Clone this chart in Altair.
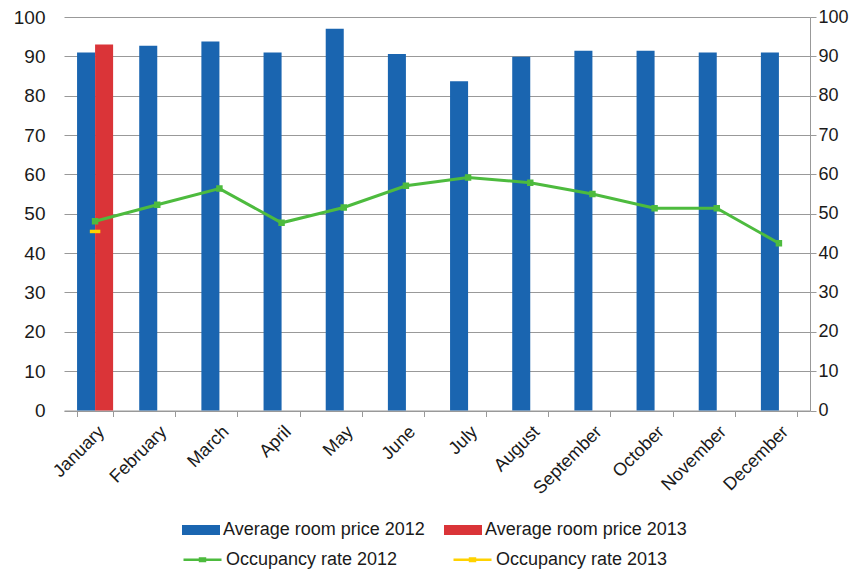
import altair as alt
import pandas as pd

months = ["January", "February", "March", "April", "May", "June", "July",
          "August", "September", "October", "November", "December"]
price_2012 = [91.0, 92.7, 93.8, 91.0, 97.0, 90.6, 83.7, 89.9, 91.4, 91.4, 91.0, 91.0]
price_2013 = [93.0]            # January only
occ_2012 = [48.1, 52.3, 56.4, 47.7, 51.6, 57.1, 59.2, 57.9, 55.0, 51.4, 51.4, 42.5]
occ_2013 = [45.5]              # January only

price_series = ["Average room price 2012", "Average room price 2013"]
occ_series = ["Occupancy rate 2012", "Occupancy rate 2013"]
price_colors = ["#1A65B0", "#DA3438"]
occ_colors = ["#4DBB3E", "#FFD200"]

bars = pd.DataFrame(
    [{"month": m, "year": "2012", "series": price_series[0], "value": v} for m, v in zip(months, price_2012)]
    + [{"month": m, "year": "2013", "series": price_series[1], "value": v} for m, v in zip(months, price_2013)]
)
occ12 = pd.DataFrame({"month": months, "series": occ_series[0], "value": occ_2012})
occ13 = pd.DataFrame({"month": months[:len(occ_2013)], "series": occ_series[1], "value": occ_2013})

FONT = "Liberation Sans"
TXT = "#1a1a1a"
ydom = alt.Scale(domain=[0, 100], nice=False, zero=True)
xscale = alt.Scale(domain=months, paddingInner=0.42, paddingOuter=0.21)

xaxis = alt.Axis(title=None, labelAngle=-45, tickBand="extent", grid=False,
                 domainColor="#999999", tickColor="#999999", tickSize=6,
                 labelFont=FONT, labelFontSize=18, labelColor=TXT,
                 labelPadding=6)

fill_legend = alt.Legend(
    title=None, orient="none", legendX=118, legendY=494, columns=2,
    symbolType="M-1,-0.26H1V0.26H-1Z", symbolSize=1444, symbolStrokeWidth=0,
    labelFont=FONT, labelFontSize=18, labelColor=TXT,
    labelOffset=3, columnPadding=19, labelLimit=400,
)
stroke_legend = alt.Legend(
    title=None, orient="none", legendX=118, legendY=522, columns=2,
    symbolType="M-1,0H1M-0.13,-0.06H0.13V0.06H-0.13Z", symbolSize=1444,
    symbolStrokeWidth=2.5, symbolFillColor="transparent",
    labelFont=FONT, labelFontSize=18, labelColor=TXT,
    labelOffset=3, columnPadding=50, labelLimit=400,
)

bar_layer = alt.Chart(bars).mark_bar().encode(
    x=alt.X("month:N", scale=xscale, axis=xaxis, sort=months),
    xOffset=alt.XOffset("year:N", scale=alt.Scale(domain=["2012", "2013"])),
    y=alt.Y("value:Q", scale=ydom, axis=alt.Axis(
        title=None, orient="left", values=list(range(0, 101, 10)), grid=True,
        gridColor="#999999", gridWidth=1, domain=False, ticks=False,
        labelPadding=19, labelFont=FONT, labelFontSize=19, labelColor=TXT)),
    fill=alt.Fill("series:N", scale=alt.Scale(domain=price_series, range=price_colors),
                  legend=fill_legend),
)

right_axis = alt.Axis(
    title=None, orient="right", values=list(range(0, 101, 10)), grid=False,
    domain=True, domainColor="#999999", ticks=True, tickColor="#999999",
    tickSize=6, labelPadding=2, labelFont=FONT, labelFontSize=18,
    labelColor=TXT)

occ_scale = alt.Scale(domain=occ_series, range=occ_colors)

line_layer = alt.Chart(occ12).mark_line(strokeWidth=3).encode(
    x=alt.X("month:N", scale=xscale, sort=months),
    y=alt.Y("value:Q", scale=ydom, axis=right_axis),
    stroke=alt.Stroke("series:N", scale=occ_scale, legend=stroke_legend),
)
marker_layer = alt.Chart(occ12).mark_point(
    shape="square", filled=False, strokeWidth=3, size=12, opacity=1
).encode(
    x=alt.X("month:N", scale=xscale, sort=months),
    y=alt.Y("value:Q", scale=ydom, axis=right_axis),
    stroke=alt.Stroke("series:N", scale=occ_scale, legend=stroke_legend),
)
point_layer = alt.Chart(occ13).mark_point(
    shape="M-1,0H1", filled=False, strokeWidth=3.5, size=110, opacity=1
).encode(
    x=alt.X("month:N", scale=xscale, sort=months),
    y=alt.Y("value:Q", scale=ydom, axis=right_axis),
    stroke=alt.Stroke("series:N", scale=occ_scale, legend=stroke_legend),
)

chart = alt.layer(bar_layer, alt.layer(line_layer, marker_layer, point_layer)).resolve_scale(
    y="independent"
).properties(
    width=746, height=393.5,
    autosize=alt.AutoSizeParams(type="none"),
    padding={"left": 56, "top": 9, "right": 40, "bottom": 158.5},
    background="white",
).configure_view(stroke=None)

chart.save("out.html", embed_options={"renderer": "svg", "actions": False})
